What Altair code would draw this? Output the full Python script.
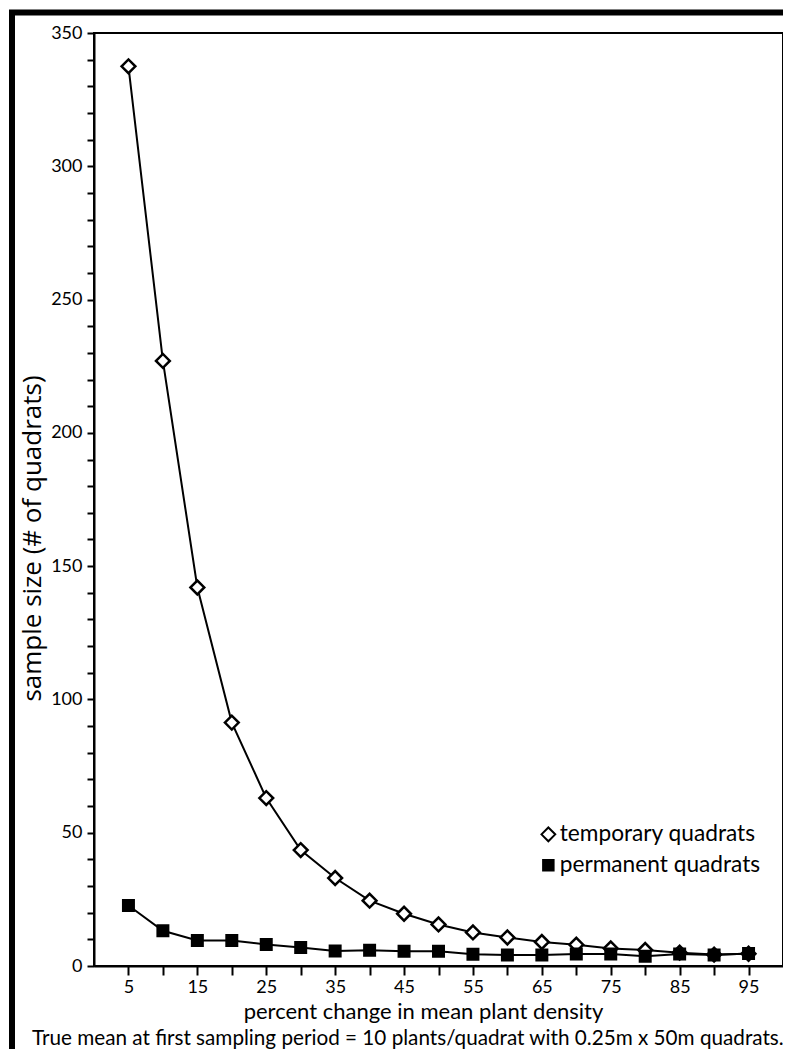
import altair as alt
import pandas as pd

pct_change = [5, 10, 15, 20, 25, 30, 35, 40, 45, 50, 55, 60, 65, 70, 75, 80, 85, 90, 95]
temporary = [337.5, 227, 142, 91.3, 63, 43.5, 33, 24.5, 19.6, 15.6, 12.6, 10.7, 9, 8, 6.6, 6, 5, 4.3, 4.6]
permanent = [22.7, 13.2, 9.6, 9.6, 8.1, 6.9, 5.6, 5.9, 5.5, 5.5, 4.4, 4.1, 4.1, 4.5, 4.5, 3.7, 4.5, 4.1, 4.7]
series_names = ["temporary quadrats", "permanent quadrats"]
footnote = ["True mean at first sampling period = 10 plants/quadrat with 0.25m x 50m quadrats."]

rows = []
for name, vals in zip(series_names, [temporary, permanent]):
    for x, v in zip(pct_change, vals):
        rows.append({"pct": x, "n": v, "series": name})
df = pd.DataFrame(rows)

FONT = "Lato"
W, H = 689, 933

x_enc = alt.X("pct:Q", scale=alt.Scale(domain=[0, 100], nice=False),
              axis=alt.Axis(values=list(range(5, 100, 5)),
                            labelExpr="(datum.value - 5) % 10 == 0 ? datum.label : ''",
                            labelOverlap=False,
                            title="percent change in mean plant density",
                            grid=False, tickSize=9, tickWidth=2, domainWidth=2,
                            domainColor="black", tickColor="black",
                            labelFontSize=18, labelColor="black", labelPadding=3,
                            titleFontSize=22, titleFontWeight="normal", titleColor="black",
                            titlePadding=5, titleX=329, titleAnchor="middle",
                            labelFont=FONT, titleFont=FONT))
y_enc = alt.Y("n:Q", scale=alt.Scale(domain=[0, 350], nice=False),
              axis=alt.Axis(values=list(range(0, 351, 10)),
                            labelExpr="datum.value % 50 == 0 ? datum.label : ''",
                            labelOverlap=False,
                            title="sample size (# of quadrats)",
                            grid=False, tickSize=7, tickWidth=2, domainWidth=2,
                            domainColor="black", tickColor="black",
                            labelFontSize=18, labelColor="black", labelPadding=5,
                            titleFontSize=26, titleFontWeight="normal", titleColor="black",
                            titlePadding=5, titleY=505, titleAnchor="middle",
                            labelFont=FONT, titleFont="Open Sans"))

lines = alt.Chart(df).mark_line(color="black", strokeWidth=2).encode(
    x=x_enc, y=y_enc, detail="series:N")

leg = dict(title=None, orient="none", legendX=443, legendY=790,
           labelFontSize=22.7, labelFont=FONT, labelColor="black", labelLimit=400,
           labelOffset=0, rowPadding=7, padding=0, symbolStrokeWidth=2)

points = alt.Chart(df).mark_point(stroke="black", strokeWidth=2.5, opacity=1, filled=False).encode(
    x=x_enc, y=y_enc,
    shape=alt.Shape("series:N", sort=series_names,
                    scale=alt.Scale(domain=series_names, range=["diamond", "square"]),
                    legend=alt.Legend(**leg)),
    fill=alt.Fill("series:N", sort=series_names,
                  scale=alt.Scale(domain=series_names, range=["white", "black"]),
                  legend=alt.Legend(**leg)),
    size=alt.Size("series:N", sort=series_names,
                  scale=alt.Scale(domain=series_names, range=[190, 110]),
                  legend=alt.Legend(**leg)),
)

one = pd.DataFrame({"note": footnote})
frame_left = alt.Chart(one).mark_rule(color="black", strokeWidth=6).encode(
    x=alt.value(-82), y=alt.value(-21), y2=alt.value(1020))
frame_top = alt.Chart(one).mark_rule(color="black", strokeWidth=6).encode(
    x=alt.value(-85), x2=alt.value(700), y=alt.value(-20.5))
note = alt.Chart(one).mark_text(align="left", baseline="alphabetic", font=FONT,
                                fontSize=20.7, color="black").encode(
    text="note:N", x=alt.value(-62), y=alt.value(1012))

chart = alt.layer(lines, points, frame_left, frame_top, note).properties(
    width=W, height=H,
    autosize=alt.AutoSizeParams(type="none"),
    padding={"left": 86, "top": 25, "right": 0, "bottom": 83},
).configure(background="white", view=alt.ViewConfig(stroke="black", strokeWidth=2))

chart.save("out.html", embed_options={"renderer": "svg", "actions": False})
